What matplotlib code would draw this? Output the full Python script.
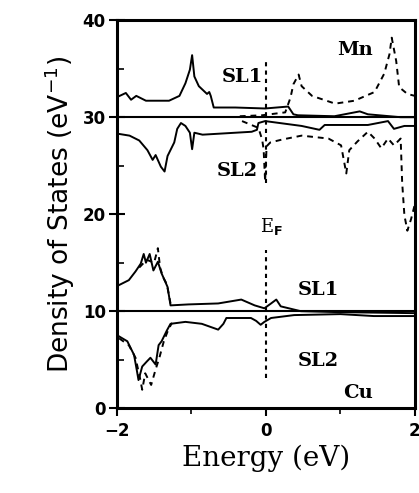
import matplotlib
matplotlib.use("Agg")
import matplotlib.pyplot as plt
from matplotlib.ticker import MultipleLocator

# ---------------- data ----------------
# Mn, sublattice 1 (above baseline 30)
mn_sl1_solid_E = [-1.99, -1.88, -1.81, -1.74, -1.61, -1.30, -1.16, -1.08, -1.02, -0.99, -0.96, -0.90,
                  -0.79, -0.76, -0.74, -0.70, -0.41, -0.01, 0.30, 0.37, 0.43, 0.92, 1.26, 1.37, 1.81, 2.0]
mn_sl1_solid_D = [32.1, 32.5, 31.8, 32.2, 31.7, 31.7, 32.2, 33.5, 34.9, 36.4, 34.2, 33.2,
                  32.4, 32.6, 32.2, 31.0, 31.0, 30.9, 31.1, 30.3, 30.2, 30.1, 30.6, 30.3, 30.0, 30.0]
mn_sl1_dash_E = [-0.35, -0.05, 0.26, 0.33, 0.37, 0.44, 0.48, 0.62, 0.93, 1.19, 1.46, 1.59, 1.66,
                 1.69, 1.75, 1.79, 1.90, 2.0]
mn_sl1_dash_D = [30.1, 30.2, 30.5, 32.0, 33.4, 34.4, 33.2, 32.2, 31.4, 31.7, 32.6, 34.5, 36.5,
                 38.2, 35.8, 33.1, 32.4, 32.2]

# Mn, sublattice 2 (below baseline 30)
mn_sl2_solid_E = [-1.99, -1.83, -1.70, -1.59, -1.52, -1.48, -1.41, -1.36, -1.32, -1.23, -1.19, -1.14,
                  -1.08, -1.02, -0.99, -0.96, -0.85, -0.63, -0.19, -0.12, -0.10, -0.01, 0.48, 0.72,
                  0.79, 1.37, 1.64, 1.72, 1.86, 2.0]
mn_sl2_solid_D = [28.3, 28.1, 27.6, 26.6, 25.6, 26.1, 24.9, 24.4, 26.0, 27.4, 28.8, 29.4,
                  29.1, 28.4, 26.7, 28.4, 28.2, 28.3, 28.5, 28.7, 29.4, 29.6, 29.1, 28.7,
                  29.2, 29.2, 29.6, 28.8, 29.1, 29.1]
mn_sl2_dash_E = [-0.32, -0.10, -0.05, -0.03, -0.01, 0.01, 0.06, 0.22, 0.48, 0.84, 1.01, 1.08, 1.12,
                 1.23, 1.37, 1.46, 1.55, 1.64, 1.72, 1.81, 1.83, 1.86, 1.90, 1.95, 2.0]
mn_sl2_dash_D = [29.6, 28.9, 27.7, 26.7, 23.4, 27.0, 27.4, 27.7, 28.1, 27.8, 27.1, 24.2, 26.6,
                 27.5, 28.5, 27.8, 26.8, 27.8, 27.1, 27.8, 23.3, 19.9, 18.3, 19.5, 21.0]

# Cu, sublattice 1 (above baseline 10)
cu_sl1_solid_E = [-1.97, -1.84, -1.75, -1.68, -1.64, -1.61, -1.56, -1.51, -1.45, -1.40, -1.32, -1.28,
                  -1.04, -0.64, -0.33, -0.15, -0.02, 0.07, 0.14, 0.20, 0.47, 1.0, 2.0]
cu_sl1_solid_D = [12.7, 13.2, 14.1, 14.9, 15.9, 15.0, 15.9, 14.2, 15.1, 13.9, 12.5, 10.6,
                  10.7, 10.8, 11.2, 10.6, 10.3, 10.8, 11.2, 10.5, 10.0, 9.9, 9.8]
cu_sl1_dash_E = [-1.70, -1.60, -1.50, -1.45, -1.42, -1.38, -1.33, -1.28]
cu_sl1_dash_D = [14.5, 15.3, 15.0, 16.5, 14.5, 13.5, 12.8, 10.8]

# Cu, sublattice 2 (below baseline 10)
cu_sl2_solid_E = [-1.97, -1.86, -1.77, -1.73, -1.71, -1.66, -1.60, -1.55, -1.48, -1.44, -1.40, -1.33,
                  -1.28, -1.08, -0.86, -0.64, -0.57, -0.53, -0.20, -0.13, -0.07, -0.02, 0.07, 0.38,
                  1.0, 1.45, 1.89, 2.0]
cu_sl2_solid_D = [7.4, 6.9, 5.5, 3.8, 2.9, 4.3, 4.8, 5.2, 4.5, 6.5, 6.9, 8.0,
                  8.7, 8.9, 8.7, 8.1, 8.7, 9.3, 9.3, 9.0, 8.6, 8.9, 9.3, 9.6,
                  9.7, 9.5, 9.5, 9.5]
cu_sl2_dash_E = [-1.97, -1.84, -1.75, -1.69, -1.66, -1.62, -1.54, -1.48, -1.43, -1.37, -1.31, -1.26]
cu_sl2_dash_D = [7.2, 6.5, 5.2, 3.1, 1.9, 3.6, 2.4, 4.0, 5.2, 6.9, 8.1, 8.8]

baselines = [30, 10]
fermi_upper = [23.2, 35.9]
fermi_lower = [3.1, 16.3]

x_ticks = [-2, 0, 2]
y_ticks = [0, 10, 20, 30, 40]

# ---------------- figure ----------------
fig = plt.figure(figsize=(4.19, 4.93), dpi=100)
ax = fig.add_axes([0.279, 0.172, 0.711, 0.787])

lw = 1.4
dash = (0, (3, 2.5))
for b in baselines:
    ax.axhline(b, color="black", lw=1.5)

ax.plot(mn_sl1_solid_E, mn_sl1_solid_D, color="black", lw=lw)
ax.plot(mn_sl1_dash_E, mn_sl1_dash_D, color="black", lw=lw, ls=dash)
ax.plot(mn_sl2_solid_E, mn_sl2_solid_D, color="black", lw=lw)
ax.plot(mn_sl2_dash_E, mn_sl2_dash_D, color="black", lw=lw, ls=dash)
ax.plot(cu_sl1_solid_E, cu_sl1_solid_D, color="black", lw=lw)
ax.plot(cu_sl1_dash_E, cu_sl1_dash_D, color="black", lw=lw, ls=dash)
ax.plot(cu_sl2_solid_E, cu_sl2_solid_D, color="black", lw=lw)
ax.plot(cu_sl2_dash_E, cu_sl2_dash_D, color="black", lw=lw, ls=dash)

ax.plot([0, 0], fermi_upper, color="black", lw=1.5, ls=(0, (2, 2)))
ax.plot([0, 0], fermi_lower, color="black", lw=1.5, ls=(0, (2, 2)))

serif = "DejaVu Serif"
tkw = dict(family=serif, fontsize=14, fontweight="bold", ha="center", va="center")
ax.text(-0.32, 34.1, "SL1", **tkw)
ax.text(1.2, 36.9, "Mn", **tkw)
ax.text(-0.38, 24.5, "SL2", **tkw)
ax.text(0.08, 18.7, r"E$_\mathbf{F}$", family=serif, fontsize=13, ha="center", va="center")
ax.text(0.7, 12.2, "SL1", **tkw)
ax.text(0.7, 4.9, "SL2", **tkw)
ax.text(1.24, 1.6, "Cu", **tkw)

ax.set_xlim(-2, 2)
ax.set_ylim(0, 40)
ax.set_xticks(x_ticks)
ax.set_yticks(y_ticks)
ax.set_xticklabels(["\u22122", "0", "2"])
ax.xaxis.set_minor_locator(MultipleLocator(1))
ax.yaxis.set_minor_locator(MultipleLocator(5))
for lab in ax.get_xticklabels() + ax.get_yticklabels():
    lab.set_fontweight("bold")
    lab.set_fontsize(12)
ax.tick_params(axis="y", which="major", direction="inout", length=12, width=1.5, pad=2)
ax.tick_params(axis="y", which="minor", direction="in", length=5, width=1.2)
ax.tick_params(axis="x", which="major", direction="out", length=6, width=1.5, pad=4)
ax.tick_params(axis="x", which="minor", direction="out", length=4, width=1.2)
for s in ax.spines.values():
    s.set_linewidth(2.2)

ax.set_xlabel("Energy (eV)", family=serif, fontsize=20, labelpad=3)
ax.set_ylabel("Density of States (eV$^{-1}$)", family="DejaVu Sans", fontsize=19, labelpad=4)

fig.savefig("out.png", dpi=100)
